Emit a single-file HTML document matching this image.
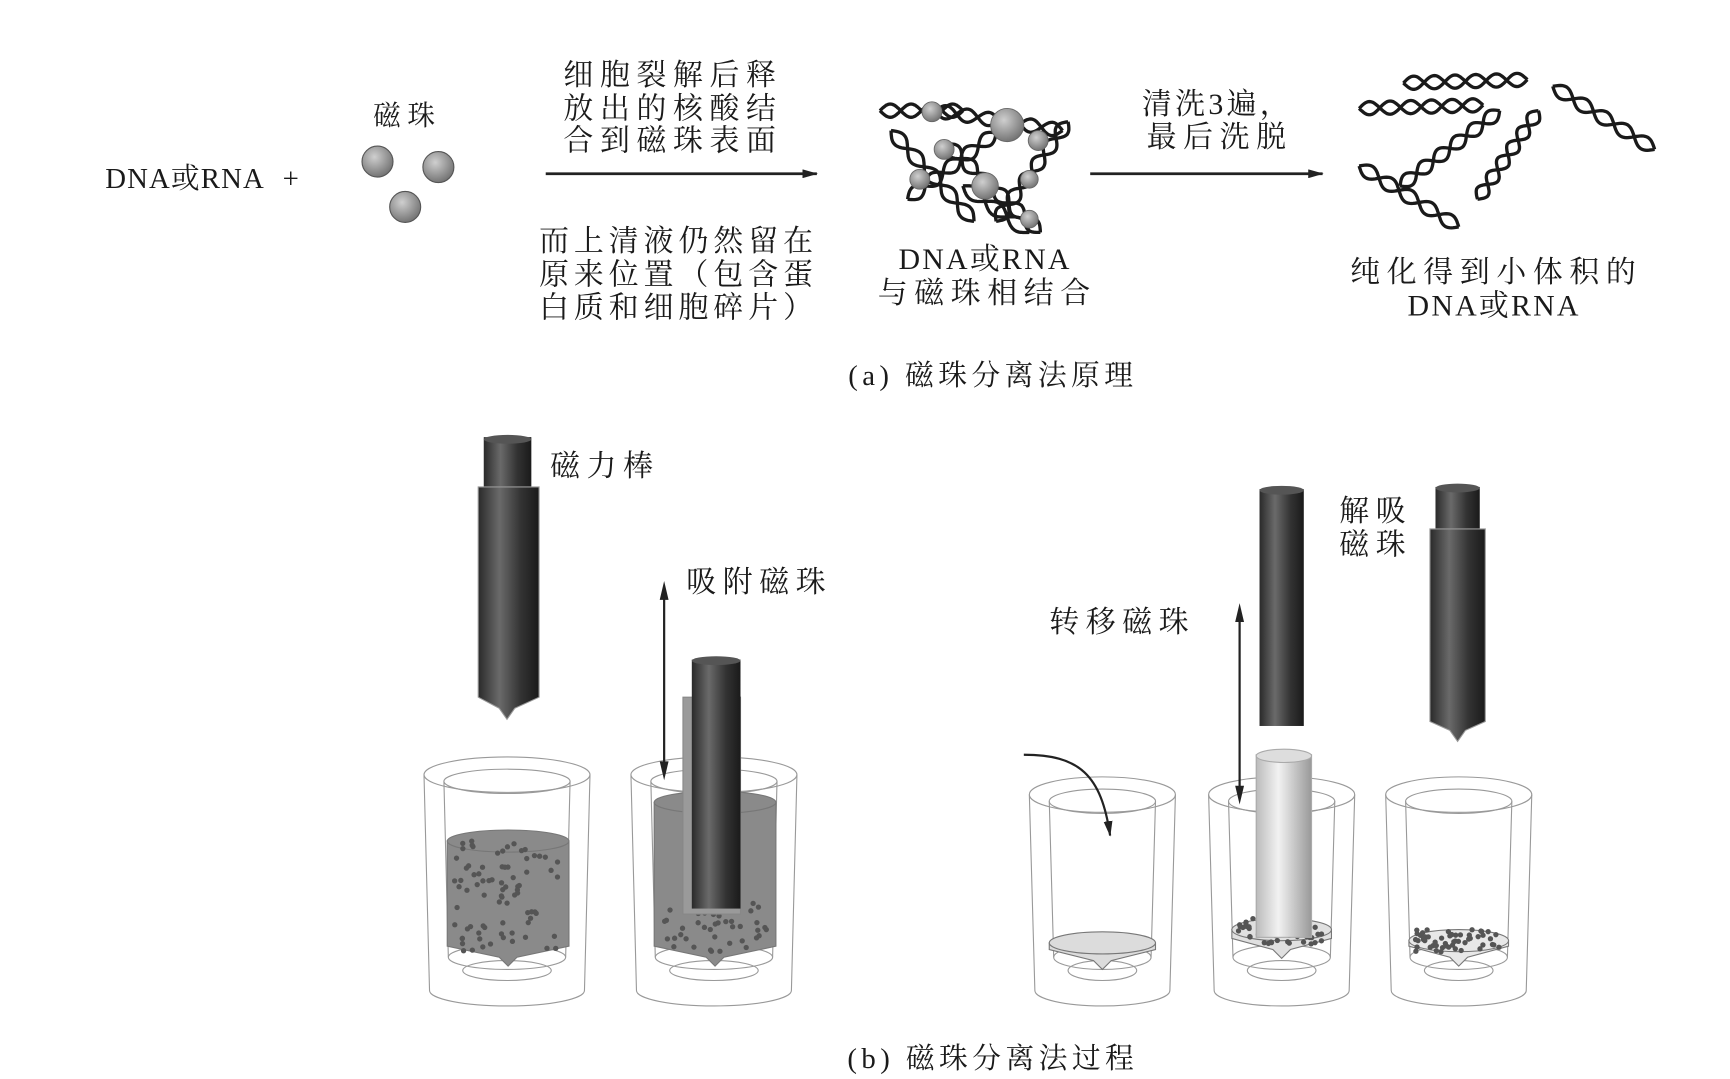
<!DOCTYPE html>
<html><head><meta charset="utf-8">
<style>
html,body{margin:0;padding:0;background:#fff;width:1730px;height:1079px;overflow:hidden}
svg{display:block}
text{font-family:"Liberation Serif","Noto Serif CJK SC",serif;fill:#1a1a1a}
.cn{letter-spacing:6px}
</style></head><body>
<svg id="s" width="1730" height="1079" viewBox="0 0 1563 975" xmlns="http://www.w3.org/2000/svg">
<defs>
<radialGradient id="bead" cx="0.4" cy="0.35" r="0.7"><stop offset="0" stop-color="#cfcfcf"/><stop offset="1" stop-color="#6e6e6e"/></radialGradient>
<linearGradient id="rod" x1="0" x2="1"><stop offset="0" stop-color="#2a2a2a"/><stop offset="0.35" stop-color="#6a6a6a"/><stop offset="0.7" stop-color="#333"/><stop offset="1" stop-color="#1a1a1a"/></linearGradient>
<linearGradient id="rodl" x1="0" x2="1"><stop offset="0" stop-color="#bbb"/><stop offset="0.4" stop-color="#f2f2f2"/><stop offset="1" stop-color="#999"/></linearGradient>
<marker id="ar" markerWidth="14" markerHeight="8" refX="13" refY="4" orient="auto" markerUnits="userSpaceOnUse"><path d="M0,0 L14,4 L0,8 Z" fill="#222"/></marker>
</defs>

<text x="95" y="170" font-size="26" letter-spacing="1">DNA或RNA <tspan dx="10">+</tspan></text>
<text x="368" y="113" font-size="25" text-anchor="middle" class="cn">磁珠</text>
<circle cx="341" cy="146" r="14" fill="url(#bead)" stroke="#555"/>
<circle cx="396" cy="151" r="14" fill="url(#bead)" stroke="#555"/>
<circle cx="366" cy="187" r="14" fill="url(#bead)" stroke="#555"/>

<g font-size="27" text-anchor="middle" class="cn">
<text x="608" y="77">细胞裂解后释</text>
<text x="608" y="107">放出的核酸结</text>
<text x="608" y="136">合到磁珠表面</text>
</g>
<line x1="493" y1="157" x2="738" y2="157" stroke="#222" stroke-width="2.5" marker-end="url(#ar)"/>
<g font-size="27" style="letter-spacing:4.5px">
<text x="487" y="227">而上清液仍然留在</text>
<text x="487" y="257">原来位置（包含蛋</text>
<text x="487" y="287">白质和细胞碎片）</text>
</g>
<g font-size="27" text-anchor="middle">
<text x="890" y="243" letter-spacing="2">DNA或RNA</text>
<text x="892" y="274" class="cn">与磁珠相结合</text>
<text x="1100" y="103" letter-spacing="3">清洗3遍，</text>
<text x="1102" y="133" class="cn">最后洗脱</text>
<text x="1352" y="255" class="cn">纯化得到小体积的</text>
<text x="1350" y="285" letter-spacing="2">DNA或RNA</text>
<text x="897" y="348" font-size="26" letter-spacing="4">(a) 磁珠分离法原理</text>
<text x="897" y="965" font-size="26" letter-spacing="4">(b) 磁珠分离法过程</text>
</g>
<line x1="985" y1="157" x2="1195" y2="157" stroke="#222" stroke-width="2.5" marker-end="url(#ar)"/>
<g id="helix" fill="none" stroke="#1a1a1a" stroke-width="3"></g>
<g id="cb"></g>

<text x="497" y="430" font-size="27" class="cn">磁力棒</text>
<text x="620" y="535" font-size="27" class="cn">吸附磁珠</text>
<text x="948" y="571" font-size="27" class="cn">转移磁珠</text>
<text x="1210" y="471" font-size="27" class="cn">解吸</text>
<text x="1210" y="501" font-size="27" class="cn">磁珠</text>

<g id="cups"></g>

<rect x="437" y="395" width="43" height="48" fill="url(#rod)"/>
<ellipse cx="458.5" cy="397" rx="21.5" ry="4" fill="#555"/>
<path d="M432,440 h55 v190 l-22,10 l-7,10 l-7,-10 l-19,-10 z" fill="url(#rod)" stroke="#999" stroke-width="1"/>
<!-- double arrow 1 -->
<line x1="600" y1="540" x2="600" y2="690" stroke="#222" stroke-width="2"/>
<path d="M596,542 L600,525 L604,542 Z M596,688 L600,705 L604,688 Z" fill="#222"/>
<rect x="1138" y="442" width="40" height="214" fill="url(#rod)"/>
<ellipse cx="1158" cy="443" rx="20" ry="4" fill="#555"/>
<line x1="1120" y1="560" x2="1120" y2="712" stroke="#222" stroke-width="2"/>
<path d="M1116,562 L1120,545 L1124,562 Z M1116,710 L1120,727 L1124,710 Z" fill="#222"/>
<rect x="1297" y="440" width="40" height="40" fill="url(#rod)"/>
<ellipse cx="1317" cy="441" rx="20" ry="4" fill="#555"/>
<path d="M1292,478 h50 v174 l-18,8 l-7,10 l-7,-10 l-18,-8 z" fill="url(#rod)" stroke="#999"/>
<path d="M925,682 C975,682 995,700 1003,755" fill="none" stroke="#222" stroke-width="2" marker-end="url(#ar)"/>
</svg>
<script>
const NS="http://www.w3.org/2000/svg";
function el(p,t,a){const e=document.createElementNS(NS,t);for(const k in a)e.setAttribute(k,a[k]);p.appendChild(e);return e;}
const H=document.getElementById('helix');
function helix(x1,y1,x2,y2,turns,amp,g){
 g=g||H;const dx=x2-x1,dy=y2-y1,L=Math.hypot(dx,dy),ux=dx/L,uy=dy/L,nx=-uy,ny=ux;
 for(const ph of [0,Math.PI]){let d="";for(let i=0;i<=80;i++){const t=i/80,a=Math.sin(t*turns*2*Math.PI+ph)*amp;const x=x1+dx*t+nx*a,y=y1+dy*t+ny*a;d+=(i?"L":"M")+x.toFixed(1)+","+y.toFixed(1);}el(g,'path',{d});}
}
helix(1268,75,1380,72,3,6);helix(1228,98,1340,95,3,6);
helix(1403,78,1495,135,2.5,6);helix(1265,168,1355,100,3,6);
helix(1335,180,1390,100,3,6);helix(1228,150,1318,205,2.5,6);
helix(795,100,870,100,2,6);helix(845,100,960,118,3,6);helix(805,118,880,200,2.5,6);
helix(820,180,900,120,2.5,6);helix(855,130,940,210,3,6);helix(900,200,965,110,3,6);helix(870,168,930,210,1.5,6);
const CB=document.getElementById('cb');
[[842,101,9],[910,113,15],[853,135,9],[938,127,9],[831,162,9],[890,168,12],[930,162,8],[930,198,8]].forEach(c=>el(CB,'circle',{cx:c[0],cy:c[1],r:c[2],fill:'url(#bead)',stroke:'#666','stroke-width':0.8}));
const C=document.getElementById('cups');
let seed=7;function rnd(){seed=(seed*9301+49297)%233280;return seed/233280;}
function cup(cx,top,hw,bot){
 const g=el(C,'g',{fill:'none',stroke:'#999','stroke-width':1});
 el(g,'path',{d:`M${cx-hw},${top} L${cx-hw+5},${bot} M${cx+hw},${top} L${cx+hw-5},${bot}`});
 el(g,'ellipse',{cx,cy:top,rx:hw,ry:16});
 el(g,'ellipse',{cx,cy:top+6,rx:hw-18,ry:11});
 el(g,'path',{d:`M${cx-hw+18},${top+6} L${cx-hw+22},${bot-30} M${cx+hw-18},${top+6} L${cx+hw-22},${bot-30}`});
 el(g,'ellipse',{cx,cy:bot-30,rx:hw-22,ry:11});
 el(g,'ellipse',{cx,cy:bot-18,rx:hw-35,ry:9});
 el(g,'path',{d:`M${cx-hw+5},${bot} A${hw-5},14 0 0 0 ${cx+hw-5},${bot}`});
}
function liq(cx,y1,y2,hw,fill,dots,dy1){
 el(C,'path',{d:`M${cx-hw},${y1} L${cx-hw},${y2} L${cx-8},${y2+10} L${cx},${y2+18} L${cx+8},${y2+10} L${cx+hw},${y2} L${cx+hw},${y1} Z`,fill,stroke:'#777'});
 el(C,'ellipse',{cx,cy:y1,rx:hw,ry:10,fill,stroke:'#777'});
 for(let i=0;i<dots;i++){el(C,'circle',{cx:cx-hw+6+rnd()*(hw*2-12),cy:(dy1||y1)+rnd()*(y2+5-(dy1||y1)),r:2.4,fill:'#555'});}
}
cup(458,700,75,895);liq(459,760,855,55,'#8a8a8a',80);
cup(645,700,75,895);liq(646,725,855,55,'#8a8a8a',45,815);
cup(996,718,66,895);liq(996,852,858,48,'#dcdcdc',0);
cup(1158,718,66,895);liq(1158,840,848,45,'#e0e0e0',55,830);
cup(1318,718,66,895);liq(1318,850,855,45,'#e8e8e8',55,840);
el(C,'path',{d:'M617,630 h52 v196 h-52 z',fill:'#9a9a9a',stroke:'#888'});
el(C,'rect',{x:625,y:596,width:44,height:225,fill:'url(#rod)'});
el(C,'ellipse',{cx:647,cy:597,rx:22,ry:4,fill:'#555'});
el(C,'rect',{x:1135,y:682,width:50,height:165,fill:'url(#rodl)',stroke:'#aaa'});
el(C,'ellipse',{cx:1160,cy:683,rx:25,ry:6,fill:'#ddd',stroke:'#aaa'});
</script>
</body></html>
